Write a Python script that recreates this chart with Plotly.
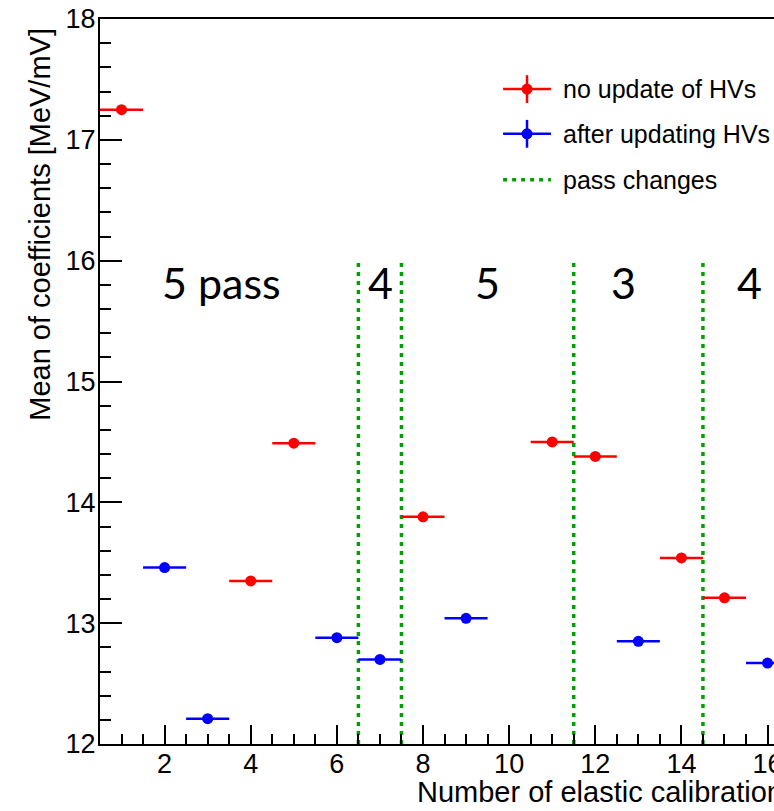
import plotly.graph_objects as go

# ---- data ----
red_x = [1, 4, 5, 8, 11, 12, 14, 15]
red_y = [17.25, 13.35, 14.49, 13.88, 14.50, 14.38, 13.54, 13.21]
blue_x = [2, 3, 6, 7, 9, 13, 16]
blue_y = [13.46, 12.21, 12.88, 12.70, 13.04, 12.85, 12.67]
bin_half_width = 0.5
pass_change_x = [6.5, 7.5, 11.5, 14.5]
pass_line_y = [12, 16]
pass_labels = ["5 pass", "4", "5", "3", "4"]
pass_label_x = [3.31, 7.02, 9.49, 12.65, 15.57]
pass_label_y = 15.82
legend_labels = ["no update of HVs", "after updating HVs", "pass changes"]
x_ticks = [2, 4, 6, 8, 10, 12, 14, 16]
y_ticks = [12, 13, 14, 15, 16, 17, 18]

RED = "#ff0000"
BLUE = "#0000ff"
GREEN = "#00a000"
FONT = "Liberation Sans, Arial, sans-serif"

fig = go.Figure()

def err_trace(xs, ys, color):
    return go.Scatter(
        x=xs, y=ys, mode="markers",
        marker=dict(color=color, size=11, symbol="circle"),
        error_x=dict(type="data", array=[bin_half_width] * len(xs),
                     color=color, thickness=2.5, width=0),
        showlegend=False, hoverinfo="x+y",
    )

# green dotted pass-change lines
gx, gy = [], []
for xv in pass_change_x:
    gx += [xv, xv, None]
    gy += [pass_line_y[0], pass_line_y[1], None]
fig.add_trace(go.Scatter(x=gx, y=gy, mode="lines",
                         line=dict(color=GREEN, width=3.5, dash="4px,5px"),
                         showlegend=False, hoverinfo="skip"))

fig.add_trace(err_trace(red_x, red_y, RED))
fig.add_trace(err_trace(blue_x, blue_y, BLUE))

# pass-count labels
for t, xv in zip(pass_labels, pass_label_x):
    fig.add_annotation(x=xv, y=pass_label_y, xref="x", yref="y", text=t,
                       showarrow=False, xanchor="center", yanchor="middle",
                       font=dict(family="Lato, Open Sans, sans-serif", size=43, color="black"))

# ---- hand-drawn ROOT-style legend ----
leg_x0, leg_x1 = 9.86, 10.97
leg_xc = (leg_x0 + leg_x1) / 2
leg_text_x = 11.2
leg_rows = [17.42, 17.05, 16.67]
leg_colors = [RED, BLUE, GREEN]
shapes = []
for i, (yv, col) in enumerate(zip(leg_rows, leg_colors)):
    if i < 2:
        shapes.append(dict(type="line", xref="x", yref="y", x0=leg_x0, x1=leg_x1,
                           y0=yv, y1=yv, line=dict(color=col, width=2.5)))
        shapes.append(dict(type="line", xref="x", yref="y", x0=leg_xc, x1=leg_xc,
                           y0=yv - 0.115, y1=yv + 0.115, line=dict(color=col, width=2.5)))
        shapes.append(dict(type="circle", xref="x", yref="y", xsizemode="pixel",
                           ysizemode="pixel", xanchor=leg_xc, yanchor=yv,
                           x0=-5.5, x1=5.5, y0=-5.5, y1=5.5,
                           fillcolor=col, line=dict(color=col, width=0)))
    else:
        shapes.append(dict(type="line", xref="x", yref="y", x0=leg_x0, x1=leg_x1,
                           y0=yv, y1=yv, line=dict(color=col, width=3.5, dash="4px,5px")))
    fig.add_annotation(x=leg_text_x, y=yv, xref="x", yref="y", text=legend_labels[i],
                       showarrow=False, xanchor="left", yanchor="middle",
                       font=dict(family=FONT, size=25, color="black"))

# axis titles
fig.add_annotation(x=-0.089, y=0.99, xref="paper", yref="paper",
                   text="Mean of coefficients [MeV/mV]", textangle=-90,
                   showarrow=False, xanchor="center", yanchor="top",
                   font=dict(family=FONT, size=29, color="black"))
fig.add_annotation(x=7.81, y=-0.066, xref="x", yref="paper",
                   text="Number of elastic calibrations",
                   showarrow=False, xanchor="left", yanchor="middle",
                   font=dict(family=FONT, size=29, color="black"))

fig.update_layout(
    width=774, height=811,
    margin=dict(l=100, r=0, t=19, b=67),
    plot_bgcolor="white", paper_bgcolor="white",
    showlegend=False, shapes=shapes,
    font=dict(family=FONT, color="black"),
)
fig.update_xaxes(
    range=[0.5, 16.15], tickvals=x_ticks, ticktext=[str(v) for v in x_ticks],
    ticks="inside", ticklen=19, tickwidth=2, tickcolor="black",
    showline=True, linecolor="black", linewidth=2, mirror=True,
    showgrid=False, zeroline=False, ticklabeloverflow="allow", automargin=False,
    ticklabelstandoff=-5,
    tickfont=dict(family=FONT, size=27, color="black"),
    minor=dict(tick0=0, dtick=0.5, ticks="inside", ticklen=10, tickwidth=2,
               tickcolor="black", showgrid=False),
)
fig.update_yaxes(
    range=[12, 18], tickvals=y_ticks, ticktext=[str(v) for v in y_ticks],
    ticks="inside", ticklen=22, tickwidth=2, tickcolor="black",
    showline=True, linecolor="black", linewidth=2,
    showgrid=False, zeroline=False, ticklabelstandoff=-3, ticklabeloverflow="allow",
    automargin=False,
    tickfont=dict(family=FONT, size=27, color="black"),
    minor=dict(tick0=0, dtick=0.2, ticks="inside", ticklen=11, tickwidth=2,
               tickcolor="black", showgrid=False),
)

# remove the page's default 8px body margin so the figure fills the window exactly
fig.write_html(
    "out.html",
    config={"displayModeBar": False},
    post_script="document.body.style.margin='0';document.body.style.overflow='hidden';",
)
